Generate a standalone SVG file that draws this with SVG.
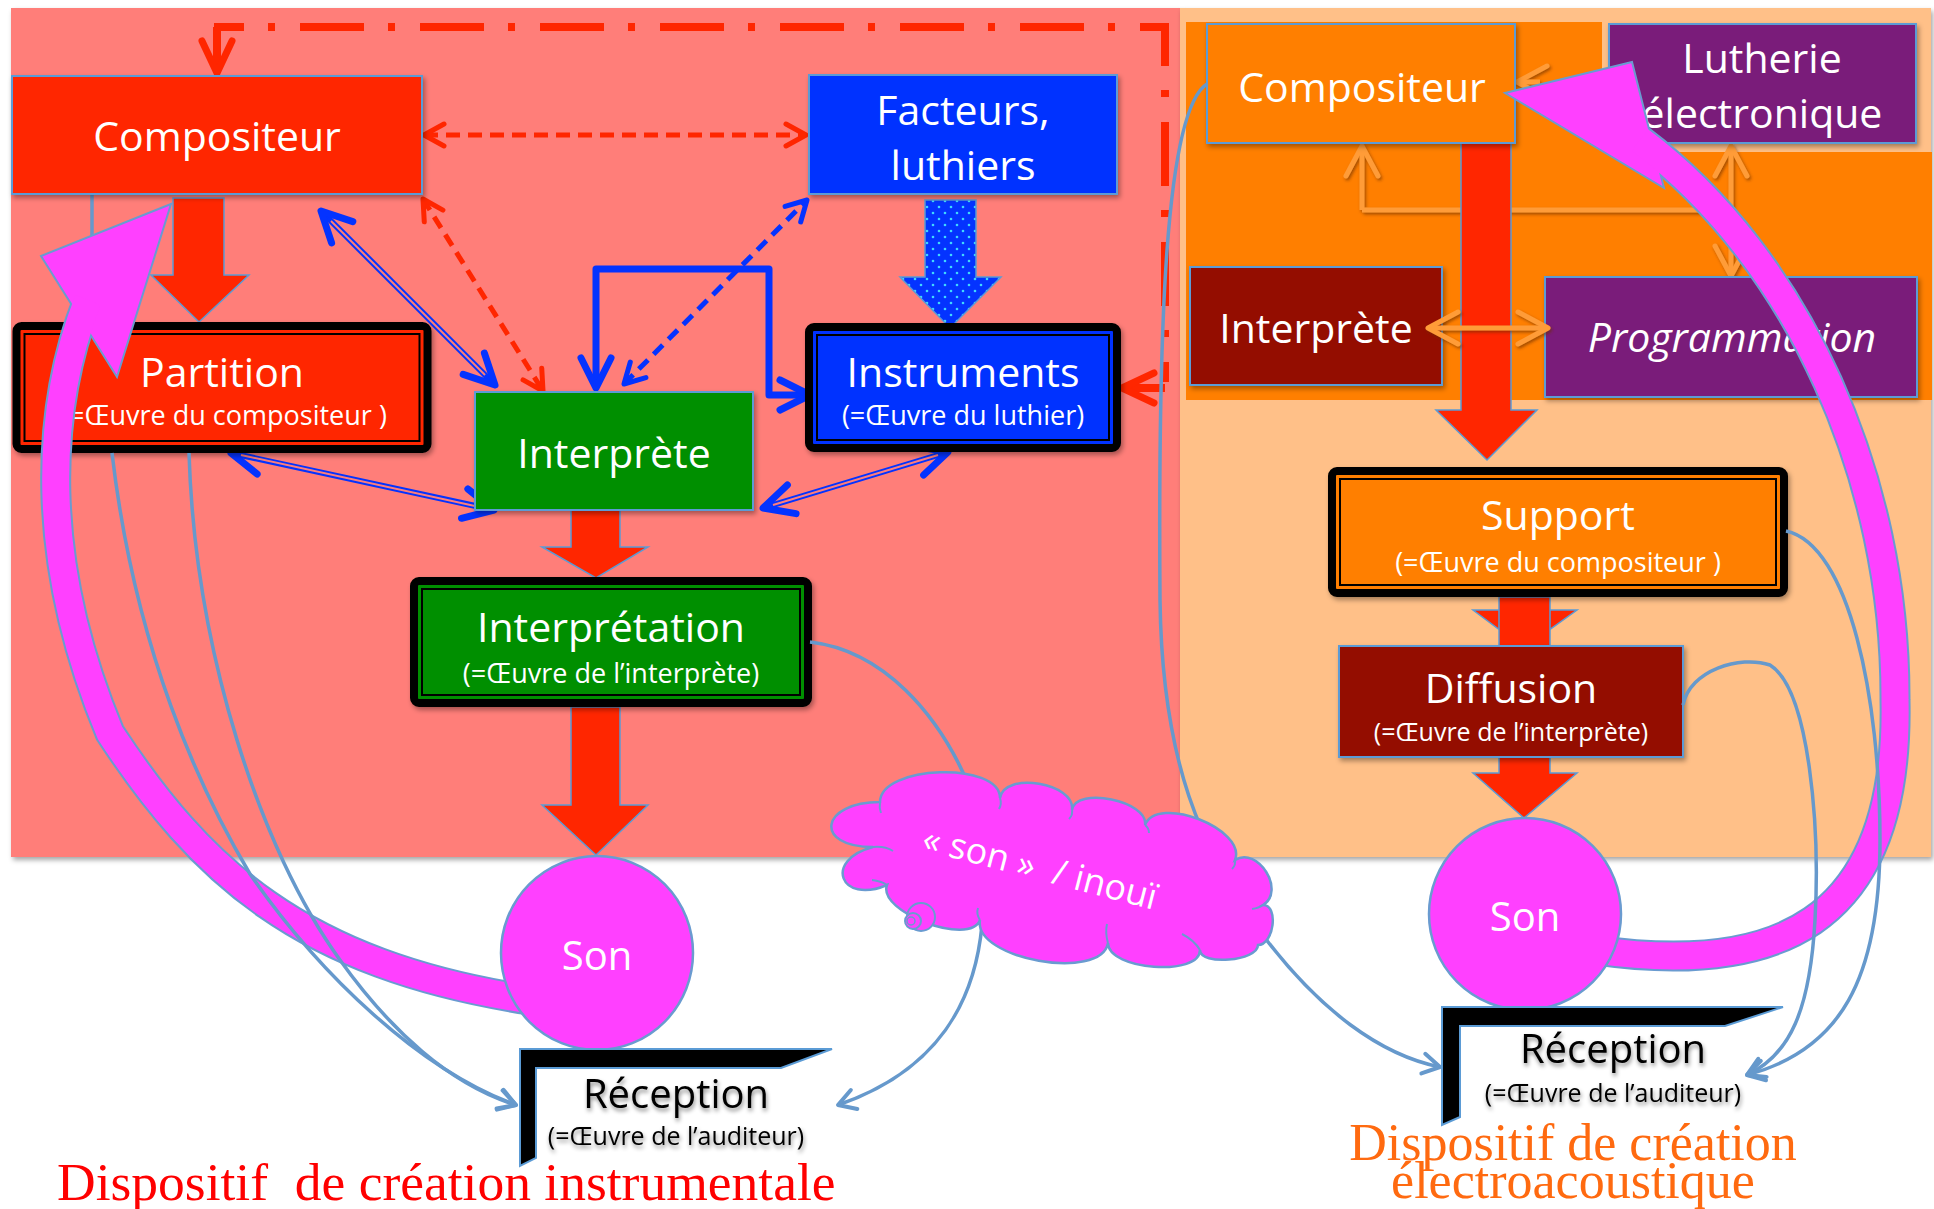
<svg xmlns="http://www.w3.org/2000/svg" width="1934" height="1209" viewBox="0 0 1934 1209">
<defs>
<style>
.t{font-family:"Open Sans","Noto Sans","DejaVu Sans",sans-serif;fill:#fff;text-anchor:middle}
.big{font-size:41px}
.sub{font-size:27px}
.sm{font-size:25px}
.dark{fill:#000}
.box{stroke:#5B9BD5;stroke-width:2}
.frame{stroke:#000;stroke-width:8}
.inr{fill:none;stroke:#000;stroke-width:2}
.barrow{stroke:#5B9BD5;stroke-width:1.5}
.thin{fill:none;stroke:#6699CC;stroke-width:3.5}
.title{font-family:"Liberation Serif","Times New Roman",serif;font-size:52px;white-space:pre}
.mag{fill:none;stroke:#FF40FF;stroke-width:27}
.magb{fill:none;stroke:#6A9BD0;stroke-width:31}
.org{fill:none;stroke:#FF9C38;stroke-width:5}
</style>
<filter id="sh" x="-10%" y="-10%" width="130%" height="140%">
<feDropShadow dx="2" dy="3" stdDeviation="2.5" flood-color="#000" flood-opacity="0.35"/>
</filter>
<filter id="tsh" x="-10%" y="-20%" width="130%" height="160%">
<feDropShadow dx="1" dy="3" stdDeviation="2" flood-color="#000" flood-opacity="0.45"/>
</filter>
<filter id="osh" filterUnits="userSpaceOnUse" x="0" y="0" width="1934" height="1209">
<feDropShadow dx="1.5" dy="2" stdDeviation="1.5" flood-color="#6a2a00" flood-opacity="0.6"/>
</filter>
<pattern id="dots" width="12" height="12" patternUnits="userSpaceOnUse">
<rect width="12" height="12" fill="#0433FF"/>
<circle cx="3" cy="3" r="1.3" fill="#3FD8FF"/>
<circle cx="9" cy="9" r="1.3" fill="#3FD8FF"/>
</pattern>
<marker id="aRs" markerUnits="userSpaceOnUse" orient="auto-start-reverse" overflow="visible" markerWidth="10" markerHeight="10"><path d="M-20,-11L0,0L-20,11" fill="none" stroke="#FF2600" stroke-width="5" stroke-linecap="round" stroke-linejoin="round"/></marker>
<marker id="aRb" markerUnits="userSpaceOnUse" orient="auto-start-reverse" overflow="visible" markerWidth="10" markerHeight="10"><path d="M-32,-15L0,0L-32,15" fill="none" stroke="#FF2600" stroke-width="7" stroke-linecap="round" stroke-linejoin="round"/></marker>
<marker id="aBb" markerUnits="userSpaceOnUse" orient="auto-start-reverse" overflow="visible" markerWidth="10" markerHeight="10"><path d="M-30,-15L0,0L-30,15" fill="none" stroke="#0433FF" stroke-width="7" stroke-linecap="round" stroke-linejoin="round"/></marker>
<marker id="aBs" markerUnits="userSpaceOnUse" orient="auto-start-reverse" overflow="visible" markerWidth="10" markerHeight="10"><path d="M-20,-11L0,0L-20,11" fill="none" stroke="#0433FF" stroke-width="5" stroke-linecap="round" stroke-linejoin="round"/></marker>
<marker id="aO" markerUnits="userSpaceOnUse" orient="auto-start-reverse" overflow="visible" markerWidth="10" markerHeight="10"><path d="M-30,-16L0,0L-30,16" fill="none" stroke="#FF9C38" stroke-width="5" stroke-linecap="round" stroke-linejoin="round"/></marker>
<marker id="aL" markerUnits="userSpaceOnUse" orient="auto-start-reverse" overflow="visible" markerWidth="10" markerHeight="10"><path d="M-17,-10L0,0L-17,10" fill="none" stroke="#6699CC" stroke-width="4" stroke-linecap="round" stroke-linejoin="round"/></marker>
</defs>

<g id="panels">
<rect x="11" y="8" width="1169" height="849" fill="#FF7E79" filter="url(#sh)"/>
<rect x="1180" y="8" width="751" height="849" fill="#FFC088" filter="url(#sh)"/>
<path d="M1186,22H1602V152H1932V400H1186Z" fill="#FF7F00"/>
</g>

<g id="connectors-back">
<path d="M214,27H1165V382" fill="none" stroke="#FF2600" stroke-width="8" stroke-dasharray="64 24 7 25" stroke-dashoffset="34"/>
<path d="M217,27V73" fill="none" stroke="#FF2600" stroke-width="8" marker-end="url(#aRb)"/>
<path d="M1165,388H1122" fill="none" stroke="#FF2600" stroke-width="8" marker-end="url(#aRb)"/>
<path d="M424,135H806" fill="none" stroke="#FF2600" stroke-width="5" stroke-dasharray="14 8" marker-start="url(#aRs)" marker-end="url(#aRs)"/>
<path d="M423,199L543,391" fill="none" stroke="#FF2600" stroke-width="5" stroke-dasharray="13 8" marker-start="url(#aRs)" marker-end="url(#aRs)"/>
<path d="M624,384L807,200" fill="none" stroke="#0433FF" stroke-width="5" stroke-dasharray="13 8" marker-start="url(#aBs)" marker-end="url(#aBs)"/>
<path d="M596,388V269H769V395H810" fill="none" stroke="#0433FF" stroke-width="7" stroke-linejoin="round" marker-start="url(#aBb)" marker-end="url(#aBb)"/>
<path d="M321,211L495,385" fill="none" stroke="#0433FF" stroke-width="6" marker-start="url(#aBb)" marker-end="url(#aBb)"/>
<path d="M331,221L485,375" fill="none" stroke="#FF7E79" stroke-width="2"/>
<path d="M231,453L494,510" fill="none" stroke="#0433FF" stroke-width="6" marker-start="url(#aBb)" marker-end="url(#aBb)"/>
<path d="M241,455L484,508" fill="none" stroke="#FF7E79" stroke-width="2"/>
<path d="M948,452L763,508" fill="none" stroke="#0433FF" stroke-width="6" marker-start="url(#aBb)" marker-end="url(#aBb)"/>
<path d="M938,455L773,505" fill="none" stroke="#FF7E79" stroke-width="2"/>
<path d="M92,194V330" class="thin"/>
<path d="M173,198H224V275H249L199,322L151,275H173Z" fill="#FF2600" class="barrow"/>
<path d="M925,200H976V277H1001L950,328L900,277H925Z" fill="url(#dots)" class="barrow"/>
<path d="M571,510H620V547H648L596,578L542,547H571Z" fill="#FF2600" class="barrow"/>
<path d="M571,707H620V805H648L596,855L542,805H571Z" fill="#FF2600" class="barrow"/>
<g filter="url(#osh)">
<path d="M1362,210H1731" class="org"/>
<path d="M1362,210V146" class="org" marker-end="url(#aO)"/>
<path d="M1731,210V146" class="org" marker-end="url(#aO)"/>
<path d="M1731,210V276" class="org" marker-end="url(#aO)"/>
<path d="M1540,82H1517" class="org" stroke-width="4" marker-end="url(#aO)"/>
</g>
<path d="M1461,143H1511V410H1537L1487,460L1436,410H1461Z" fill="#FF2600" class="barrow"/>
<path d="M1473,610H1577L1524,648Z" fill="#FF2600" class="barrow"/>
<path d="M1499,597H1550V648H1499Z" fill="#FF2600" class="barrow"/>
<path d="M1499,757H1550V773H1577L1524,818L1473,773H1499Z" fill="#FF2600" class="barrow"/>
</g>

<g id="n-compositeur">
<rect x="12" y="76" width="410" height="118" fill="#FF2600" class="box" filter="url(#sh)"/>
<text x="217" y="151" class="t big">Compositeur</text>
</g>
<g id="n-facteurs">
<rect x="809" y="75" width="308" height="119" fill="#0433FF" class="box" filter="url(#sh)"/>
<text x="963" y="125" class="t big">Facteurs,</text>
<text x="963" y="180" class="t big">luthiers</text>
</g>
<g id="n-partition">
<rect x="16.5" y="326" width="411" height="123" rx="5" fill="#FF2600" class="frame" filter="url(#sh)"/>
<rect x="24.5" y="334" width="395" height="107" class="inr"/>
<text x="222" y="387" class="t big">Partition</text>
<text x="224" y="425" class="t sub">(=Œuvre du compositeur )</text>
</g>
<g id="n-instruments">
<rect x="809" y="327" width="308" height="121" rx="5" fill="#0433FF" class="frame" filter="url(#sh)"/>
<rect x="817" y="335" width="292" height="105" class="inr"/>
<text x="963" y="387" class="t big">Instruments</text>
<text x="963" y="425" class="t sub">(=Œuvre du luthier)</text>
</g>
<g id="n-interprete">
<rect x="475" y="392" width="278" height="118" fill="#008F00" class="box" filter="url(#sh)"/>
<text x="614" y="468" class="t big">Interprète</text>
</g>
<g id="n-interpretation">
<rect x="414" y="581" width="394" height="122" rx="5" fill="#008F00" class="frame" filter="url(#sh)"/>
<rect x="422" y="589" width="378" height="106" class="inr"/>
<text x="611" y="642" class="t big">Interprétation</text>
<text x="611" y="683" class="t sub">(=Œuvre de l’interprète)</text>
</g>
<g id="n-compositeur2">
<rect x="1207" y="24" width="308" height="119" fill="#FF7F00" class="box" filter="url(#sh)"/>
<text x="1362" y="102" class="t big">Compositeur</text>
</g>
<g id="n-lutherie">
<rect x="1609" y="24" width="307" height="119" fill="#7A1C7A" class="box" filter="url(#sh)"/>
<text x="1762" y="73" class="t big">Lutherie</text>
<text x="1762" y="128" class="t big">électronique</text>
</g>
<g id="n-interprete2">
<rect x="1190" y="267" width="252" height="118" fill="#941100" class="box" filter="url(#sh)"/>
<text x="1316" y="343" class="t big">Interprète</text>
</g>
<g id="n-programmation">
<rect x="1545" y="277" width="372" height="120" fill="#7A1C7A" class="box" filter="url(#sh)"/>
<text x="1732" y="352" class="t big" font-style="italic">Programmation</text>
</g>
<g id="n-support">
<rect x="1332" y="471" width="452" height="122" rx="5" fill="#FF7F00" class="frame" filter="url(#sh)"/>
<rect x="1340" y="479" width="436" height="106" class="inr"/>
<text x="1558" y="530" class="t big">Support</text>
<text x="1558" y="572" class="t sub">(=Œuvre du compositeur )</text>
</g>
<g id="n-diffusion">
<rect x="1339" y="646" width="344" height="111" fill="#941100" class="box" filter="url(#sh)"/>
<text x="1511" y="703" class="t big">Diffusion</text>
<text x="1511" y="741" class="t sm">(=Œuvre de l’interprète)</text>
</g>

<g id="connectors-front">
<g filter="url(#osh)">
<path d="M1428,328H1548" class="org" marker-start="url(#aO)" marker-end="url(#aO)"/>
</g>
</g>

<g id="magenta-arrows">
<path d="M88,300C45,410 38,560 110,733C200,870 300,965 530,1000" class="magb"/>
<polygon points="171,204 41,256 117,377" fill="#FF40FF" stroke="#6A9BD0" stroke-width="2"/>
<path d="M88,300C45,410 38,560 110,733C200,870 300,965 530,1000" class="mag"/>
<path d="M1595,950C1770,975 1900,930 1895,700C1896,480 1800,260 1640,140" class="magb"/>
<polygon points="1505,93 1632,62 1664,188" fill="#FF40FF" stroke="#6A9BD0" stroke-width="2"/>
<path d="M1595,950C1770,975 1900,930 1895,700C1896,480 1800,260 1640,140" class="mag"/>
</g>

<g id="connectors-thin">
<path d="M112,453C135,650 200,790 250,874C320,975 420,1070 516,1105" class="thin" marker-end="url(#aL)"/>
<path d="M189,453C195,650 260,850 340,960C390,1030 450,1085 516,1105" class="thin" marker-end="url(#aL)"/>
<path d="M810,642C880,650 940,710 975,800" class="thin"/>
<path d="M982,925C975,1000 940,1070 838,1105" class="thin" marker-end="url(#aL)"/>
<path d="M1207,84C1165,110 1158,330 1160,600C1162,760 1200,850 1265,938C1320,1010 1380,1055 1440,1067" class="thin" marker-end="url(#aL)"/>
<path d="M1786,531C1850,545 1880,700 1880,840C1880,980 1840,1050 1747,1075" class="thin" marker-end="url(#aL)"/>
<path d="M1683,705C1690,670 1740,655 1770,665C1810,690 1820,830 1815,920C1810,1010 1790,1055 1747,1075" class="thin" marker-end="url(#aL)"/>
</g>

<g id="n-son1">
<ellipse cx="597" cy="953" rx="96" ry="97" fill="#FF40FF" stroke="#6A9BD0" stroke-width="2.5"/>
<text x="597" y="970" class="t" font-size="40">Son</text>
</g>
<g id="n-son2">
<ellipse cx="1525" cy="914" rx="96" ry="96" fill="#FF40FF" stroke="#6A9BD0" stroke-width="2.5"/>
<text x="1525" y="931" class="t" font-size="40">Son</text>
</g>

<g id="n-cloud">
<path d="M873,847C813,847 820,802 880,802C880,765 1000,761 1000,798C1004,771 1076,783 1072,810C1076,786 1149,801 1145,825C1157,794 1247,829 1235,860C1258,846 1286,891 1263,905C1279,905 1274,945 1258,945C1258,961 1200,966 1200,950C1200,977 1108,970 1108,943C1101,982 973,959 980,920C970,947 877,912 887,885C840,905 823,860 873,847Z" fill="#FF40FF" stroke="#6A9BD0" stroke-width="2.5"/>
<g fill="none" stroke="#6A9BD0" stroke-width="2">
<path d="M873,847q12,-1 20,4"/>
<path d="M880,802q-1,6 1,11"/>
<path d="M1000,798q2,6 -1,11"/>
<path d="M1072,810q1,5 -3,9"/>
<path d="M1145,825q4,3 4,8"/>
<path d="M1235,860q1,5 -3,9"/>
<path d="M1263,905q-4,3 -11,4"/>
<path d="M1200,950q-6,-10 -18,-16"/>
<path d="M1108,943q-3,-10 -1,-19"/>
<path d="M980,920q-4,-6 -2,-12"/>
<path d="M887,885q-6,-4 -15,-5"/>
</g>
<circle cx="921" cy="917" r="14" fill="#FF40FF" stroke="#6A9BD0" stroke-width="2"/>
<circle cx="913" cy="921" r="8" fill="#FF40FF" stroke="#6A9BD0" stroke-width="2"/>
<circle cx="911" cy="921" r="4" fill="#FF40FF" stroke="#6A9BD0" stroke-width="1.5"/>
<text transform="translate(1040,868) rotate(14.5)" x="0" y="12" class="t" font-size="36" style="white-space:pre">« son »  / inouï</text>
</g>

<g id="n-reception1">
<polygon points="520,1049 832,1049 781,1068 536,1068 536,1158 520,1166" fill="#000" stroke="#5B9BD5" stroke-width="2"/>
<g filter="url(#tsh)">
<text x="676" y="1108" class="t dark" font-size="40">Réception</text>
<text x="676" y="1145" class="t dark sm">(=Œuvre de l’auditeur)</text>
</g>
</g>
<g id="n-reception2">
<polygon points="1442,1007 1783,1007 1725,1026 1460,1026 1460,1117 1442,1125" fill="#000" stroke="#5B9BD5" stroke-width="2"/>
<g filter="url(#tsh)">
<text x="1613" y="1063" class="t dark" font-size="40">Réception</text>
<text x="1613" y="1102" class="t dark sm">(=Œuvre de l’auditeur)</text>
</g>
</g>

<g id="titles">
<text x="57" y="1200" class="title" fill="#FF0000" style="font-size:53.5px">Dispositif  de création instrumentale</text>
<text x="1573" y="1160" class="title" fill="#FF6A10" text-anchor="middle">Dispositif de création</text>
<text x="1573" y="1198" class="title" fill="#FF6A10" text-anchor="middle">électroacoustique</text>
</g>
</svg>
